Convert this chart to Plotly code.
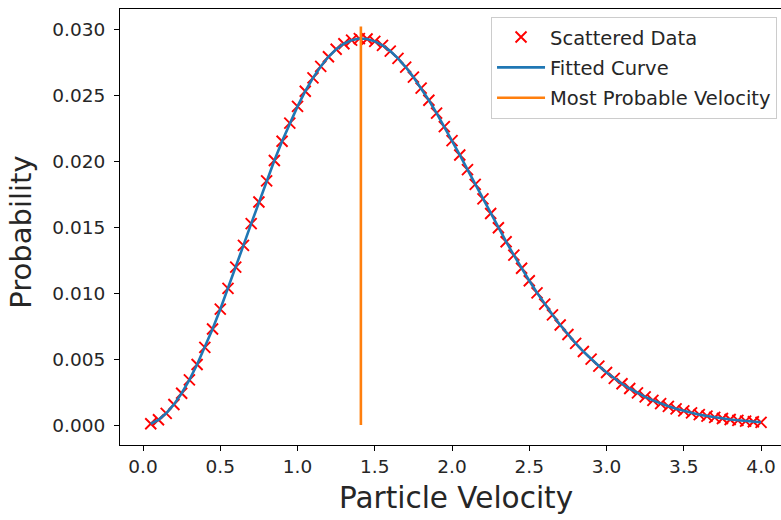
import plotly.graph_objects as go

# Particle velocity samples
velocity = [0.05, 0.10, 0.15, 0.20, 0.25, 0.30, 0.35, 0.40, 0.45, 0.50,
            0.55, 0.60, 0.65, 0.70, 0.75, 0.80, 0.85, 0.90, 0.95, 1.00,
            1.05, 1.10, 1.15, 1.20, 1.25, 1.30, 1.35, 1.40, 1.45, 1.50,
            1.55, 1.60, 1.65, 1.70, 1.75, 1.80, 1.85, 1.90, 1.95, 2.00,
            2.05, 2.10, 2.15, 2.20, 2.25, 2.30, 2.35, 2.40, 2.45, 2.50,
            2.55, 2.60, 2.65, 2.70, 2.75, 2.80, 2.85, 2.90, 2.95, 3.00,
            3.05, 3.10, 3.15, 3.20, 3.25, 3.30, 3.35, 3.40, 3.45, 3.50,
            3.55, 3.60, 3.65, 3.70, 3.75, 3.80, 3.85, 3.90, 3.95, 4.00]

# Scattered probability data
probability = [0.00010, 0.00040, 0.00089, 0.00156, 0.00241, 0.00342, 0.00459, 0.00588, 0.00728, 0.00878,
               0.01035, 0.01197, 0.01361, 0.01526, 0.01690, 0.01850, 0.02004, 0.02150, 0.02288, 0.02414,
               0.02529, 0.02630, 0.02717, 0.02790, 0.02847, 0.02889, 0.02916, 0.02928, 0.02925, 0.02907,
               0.02877, 0.02833, 0.02778, 0.02712, 0.02636, 0.02552, 0.02461, 0.02363, 0.02261, 0.02155,
               0.02046, 0.01935, 0.01824, 0.01713, 0.01603, 0.01495, 0.01389, 0.01287, 0.01188, 0.01093,
               0.01002, 0.00916, 0.00835, 0.00758, 0.00686, 0.00619, 0.00557, 0.00499, 0.00447, 0.00398,
               0.00354, 0.00313, 0.00277, 0.00244, 0.00214, 0.00187, 0.00163, 0.00142, 0.00123, 0.00107,
               0.00092, 0.00079, 0.00068, 0.00058, 0.00050, 0.00042, 0.00036, 0.00030, 0.00025, 0.00021]

# Fitted curve (same sample points)
fit_velocity = velocity
fit_probability = probability

# Most probable velocity line
mp_velocity = [1.41, 1.41]
mp_probability = [0.0, 0.0302]

x_ticks = [0.0, 0.5, 1.0, 1.5, 2.0, 2.5, 3.0, 3.5, 4.0]
x_tick_labels = ["0.0", "0.5", "1.0", "1.5", "2.0", "2.5", "3.0", "3.5", "4.0"]
y_ticks = [0.000, 0.005, 0.010, 0.015, 0.020, 0.025, 0.030]
y_tick_labels = ["0.000", "0.005", "0.010", "0.015", "0.020", "0.025", "0.030"]

FONT = "DejaVu Sans"
TXT = "#262626"

fig = go.Figure()
fig.add_trace(go.Scatter(
    x=velocity, y=probability, mode="markers", name="Scattered Data",
    marker=dict(symbol="x-thin", size=11, line=dict(color="#ff0000", width=1.9), color="#ff0000"),
    legendgroup="a",
))
fig.add_trace(go.Scatter(
    x=fit_velocity, y=fit_probability, mode="lines", name="Fitted Curve",
    line=dict(color="#1f77b4", width=2.6), legendgroup="b",
))
fig.add_trace(go.Scatter(
    x=mp_velocity, y=mp_probability, mode="lines", name="Most Probable Velocity",
    line=dict(color="#ff7f0e", width=2.6), legendgroup="c",
))

fig.update_layout(
    width=781, height=520,
    margin=dict(l=120, r=0, t=9, b=75),
    paper_bgcolor="white", plot_bgcolor="white",
    font=dict(family=FONT, size=18.5, color=TXT),
    showlegend=True,
    legend=dict(
        x=0.994, y=0.982, xanchor="right", yanchor="top",
        bgcolor="rgba(255,255,255,0.8)", bordercolor="#cccccc", borderwidth=1,
        font=dict(family=FONT, size=19.5, color=TXT),
        itemwidth=48, tracegroupgap=2, traceorder="grouped",
    ),
    xaxis=dict(
        range=[-0.149, 4.129], showgrid=False, zeroline=False,
        showline=True, linecolor="black", linewidth=1, mirror=True,
        ticks="outside", ticklen=5, tickwidth=1, tickcolor="black",
        tickvals=x_ticks, ticktext=x_tick_labels,
        tickfont=dict(family=FONT, size=18.5, color=TXT),
    ),
    yaxis=dict(
        range=[-0.00151, 0.03152], showgrid=False, zeroline=False,
        showline=True, linecolor="black", linewidth=1, mirror=False,
        ticks="outside", ticklen=5, tickwidth=1, tickcolor="black",
        tickvals=y_ticks, ticktext=y_tick_labels, ticklabelstandoff=5,
        tickfont=dict(family=FONT, size=18.5, color=TXT),
    ),
    annotations=[
        dict(text="Particle Velocity", xref="paper", yref="paper",
             x=(456 - 120) / 661, y=-0.077, xanchor="center", yanchor="top",
             showarrow=False, font=dict(family=FONT, size=29.5, color=TXT)),
        dict(text="Probability", xref="paper", yref="paper",
             x=-0.15, y=(445 - 232) / 435.7, xanchor="center", yanchor="middle",
             textangle=-90, showarrow=False,
             font=dict(family=FONT, size=29, color=TXT)),
    ],
)

fig.write_html("out.html")
